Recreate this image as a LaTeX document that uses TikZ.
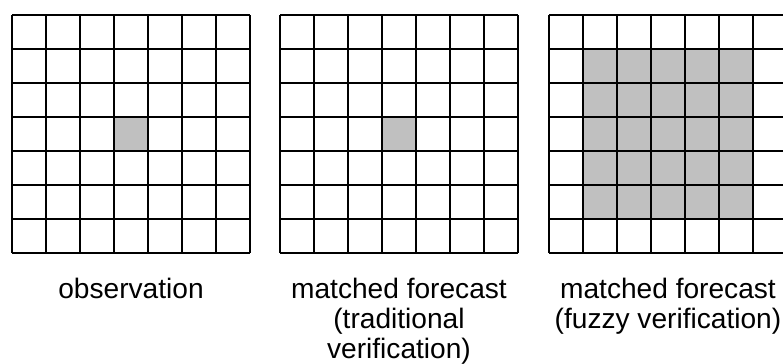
\documentclass[tikz,border=0pt]{standalone}
\usepackage{fontspec}
\setmainfont{Liberation Sans}
\usetikzlibrary{positioning}
\definecolor{cellgrey}{RGB}{192,192,192}

\begin{document}
\begin{tikzpicture}[gridline/.style={line width=1.2pt},
    every node/.style={font=\fontsize{16}{17}\selectfont, align=center, inner sep=0pt, anchor=north}]
    \useasboundingbox (0,0) rectangle (15.66,7.26);

    % Grids with shaded cells
    \foreach \gx/\lo/\hi in {0.24/3/4, 5.6/3/4, 10.98/1/6} {
        \begin{scope}[shift={(\gx,2.2)}, scale=0.68]
            \fill[cellgrey] (\lo,\lo) rectangle (\hi,\hi);
            \draw[gridline] (0,0) grid (7,7);
        \end{scope}
    }

    % Labels below
    \node (obs) at (2.62,1.7) {observation};
    \node (trad) at (7.98,1.7) {matched forecast\\(traditional\\verification)};
    \node (fuzzy) at (13.36,1.7) {matched forecast\\(fuzzy verification)};
\end{tikzpicture}
\end{document}
